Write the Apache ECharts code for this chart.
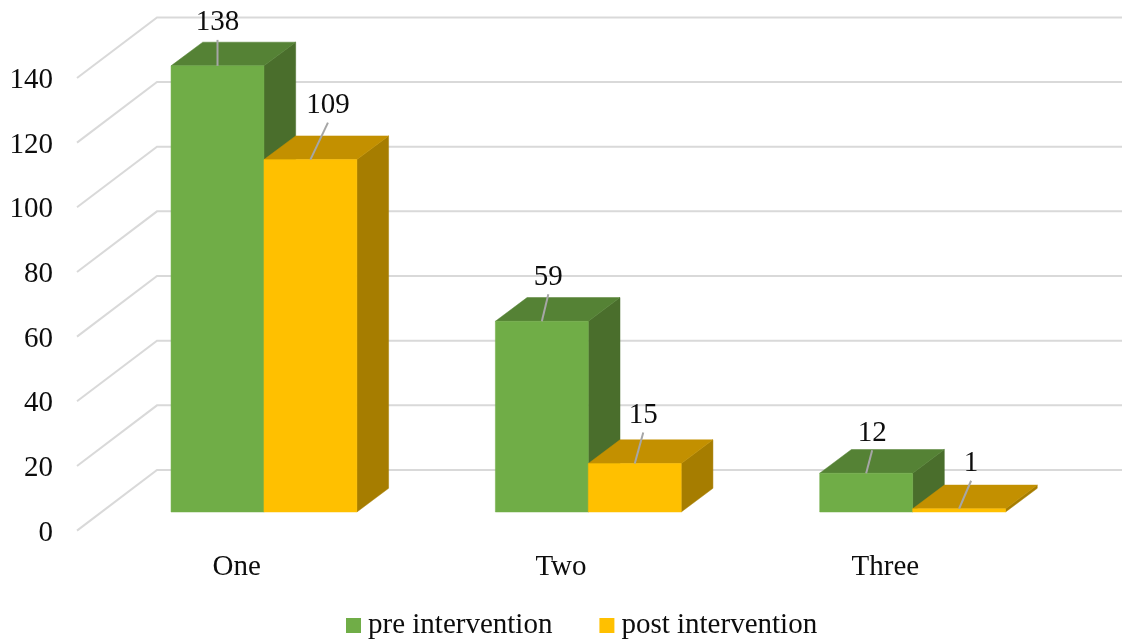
<!DOCTYPE html>
<html>
<head>
<meta charset="utf-8">
<style>html,body{margin:0;padding:0;background:#fff}#chart{width:1122px;height:642px}</style>
<script src="https://cdn.jsdelivr.net/npm/echarts@6/dist/echarts.min.js"></script>
</head>
<body>
<div id="chart"></div>
<script>
const categories = ['One', 'Two', 'Three'];
const preIntervention = [138, 59, 12];
const postIntervention = [109, 15, 1];
const wallTicks = [0, 20, 40, 60, 80, 100, 120, 140];

// Leader-line ends for each value label, relative to the middle of the bar's top front edge.
const preLeaders = [[0, -26], [6.5, -27], [6, -23]];
const postLeaders = [[17.5, -37], [8.5, -31], [12, -28]];

const FONT = '"Liberation Serif", "Times New Roman", serif';
const TEXT = '#0d0d0d';
const FONT_SIZE = 29;

// Oblique projection: plot plane -> bar plane, bar depth, back wall.
const BAR_SHIFT = [27.3, -18.6];
const BAR_DEPTH = [31.7, -23.7];
const WALL_DEPTH = [80, -60.6];
const WALL_INSET = 2.5;

const greenFaces = { front: '#70ad47', top: '#558235', side: '#4a6e2c' };
const goldFaces = { front: '#ffc000', top: '#c39000', side: '#a67d00' };

function poly(points, fill) {
  return { type: 'polygon', shape: { points }, style: { fill, stroke: fill, lineWidth: 0.5 } };
}

// Draws one prism with its leader line and value label.
function prism(faces, slot, leaders) {
  return function (params, api) {
    const cat = api.value(0);
    const val = api.value(1);
    const top = api.coord([cat, val]);
    const base = api.coord([cat, 0]);
    const w = api.size([1, 0])[0] * 0.2865;
    const x0 = top[0] + BAR_SHIFT[0] + (slot - 1) * w;
    const x1 = x0 + w;
    const yT = top[1] + BAR_SHIFT[1];
    const yB = base[1] + BAR_SHIFT[1];
    const dx = BAR_DEPTH[0];
    const dy = BAR_DEPTH[1];
    const mid = (x0 + x1) / 2;
    const end = [mid + leaders[cat][0], yT + leaders[cat][1]];
    return {
      type: 'group',
      children: [
        poly([[x1, yT], [x1 + dx, yT + dy], [x1 + dx, yB + dy], [x1, yB]], faces.side),
        poly([[x0, yT], [x0 + dx, yT + dy], [x1 + dx, yT + dy], [x1, yT]], faces.top),
        poly([[x0, yT], [x1, yT], [x1, yB], [x0, yB]], faces.front),
        { type: 'line', shape: { x1: mid, y1: yT, x2: end[0], y2: end[1] },
          style: { stroke: '#a6a6a6', lineWidth: 2 } },
        { type: 'text', style: { text: String(val), x: end[0], y: end[1] - 17,
          fill: TEXT, font: FONT_SIZE + 'px ' + FONT, align: 'center', verticalAlign: 'middle' } }
      ]
    };
  };
}

// Side and back wall gridlines for one axis tick.
function wallLine(params, api) {
  const p = api.coord([0, api.value(1)]);
  const left = params.coordSys.x + WALL_INSET;
  const y = p[1];
  return {
    type: 'polyline',
    shape: { points: [[left, y], [left + WALL_DEPTH[0], y + WALL_DEPTH[1]], [api.getWidth(), y + WALL_DEPTH[1]]] },
    style: { fill: 'none', stroke: '#d9d9d9', lineWidth: 2 }
  };
}

const chart = echarts.init(document.getElementById('chart'), null, { renderer: 'canvas' });
chart.setOption({
  animation: false,
  backgroundColor: '#ffffff',
  grid: { left: 74.5, top: 78, width: 973, height: 452.6 },
  legend: {
    left: 341, top: 606,
    icon: 'rect', itemWidth: 15, itemHeight: 15, itemGap: 47,
    data: ['pre intervention', 'post intervention'],
    textStyle: { fontFamily: FONT, fontSize: FONT_SIZE, color: TEXT, padding: [3, 0, 0, 2] }
  },
  xAxis: {
    type: 'category', data: categories,
    axisLine: { show: false }, axisTick: { show: false }, splitLine: { show: false },
    axisLabel: { fontFamily: FONT, fontSize: FONT_SIZE, color: TEXT, margin: 22 }
  },
  yAxis: {
    type: 'value', min: 0, max: 140, interval: 20,
    axisLine: { show: false }, axisTick: { show: false }, splitLine: { show: false },
    // A short line box anchored at the tick sets the digits just below the wall line's end.
    axisLabel: { fontFamily: FONT, fontSize: FONT_SIZE, color: TEXT, margin: 21.5, verticalAlign: 'top', lineHeight: 5 }
  },
  series: [
    { type: 'custom', name: 'walls', silent: true, z: 1, renderItem: wallLine,
      encode: { x: 0, y: 1 }, data: wallTicks.map(v => [0, v]) },
    { type: 'custom', name: 'pre intervention', z: 2, renderItem: prism(greenFaces, 0, preLeaders),
      itemStyle: { color: greenFaces.front }, encode: { x: 0, y: 1 },
      data: preIntervention.map((v, i) => [i, v]) },
    { type: 'custom', name: 'post intervention', z: 3, renderItem: prism(goldFaces, 1, postLeaders),
      itemStyle: { color: goldFaces.front }, encode: { x: 0, y: 1 },
      data: postIntervention.map((v, i) => [i, v]) }
  ]
});
</script>
</body>
</html>
